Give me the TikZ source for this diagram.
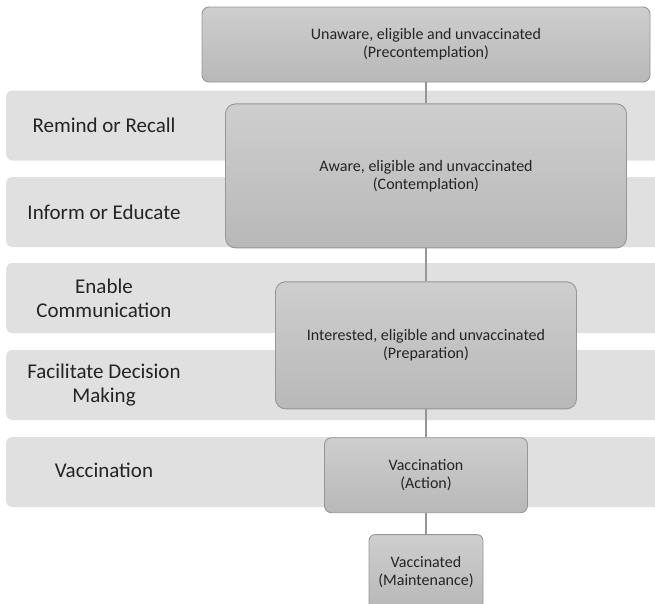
\documentclass[tikz,border=0pt]{standalone}
\usepackage{fontspec}
\setmainfont{Carlito}
\usetikzlibrary{positioning}
\definecolor{bandgray}{RGB}{224,224,224}
\definecolor{boxtop}{RGB}{206,206,206}
\definecolor{boxbot}{RGB}{184,184,184}
\definecolor{boxline}{RGB}{150,150,150}
\definecolor{txtgray}{RGB}{36,36,36}
\tikzset{>=stealth}

\begin{document}
\begin{tikzpicture}[x=1pt,y=1pt,
    band/.style={fill=bandgray, rounded corners=6pt, minimum height=70pt, minimum width=680pt, anchor=west, inner sep=0pt},
    tag/.style={font=\fontsize{21}{24}\selectfont, text=txtgray, align=center},
    stage/.style={draw=boxline, line width=0.9pt, top color=boxtop, bottom color=boxbot, rounded corners=8pt,
        font=\fontsize{16}{18}\selectfont, text=txtgray, align=center, inner sep=0pt},
    link/.style={draw=boxline, line width=1.2pt}]
    \clip (0,0) rectangle (655,-603);
    \node[band] (remind) at (6,-125.5) {};
    \node[band] (inform) at (6,-212) {};
    \node[band] (enable) at (6,-298) {};
    \node[band] (facil) at (6,-385) {};
    \node[band] (vacc) at (6,-472) {};
    \node[tag] (remindtxt) at (104,-125) {Remind or Recall};
    \node[tag] (informtxt) at (104,-212) {Inform or Educate};
    \node[tag] (enabletxt) at (104,-298) {Enable\\Communication};
    \node[tag] (faciltxt) at (104,-385) {Facilitate Decision\\Making};
    \node[tag] (vacctxt) at (104,-470) {Vaccination};
    \node[stage, minimum width=448pt, minimum height=75pt, rounded corners=7pt] (precon) at (426,-44.5)
        {Unaware, eligible and unvaccinated\\(Precontemplation)};
    \node[stage, minimum width=401pt, minimum height=144pt, rounded corners=10pt, below=21pt of precon] (contem)
        {Aware, eligible and unvaccinated\\(Contemplation)};
    \node[stage, minimum width=301pt, minimum height=127pt, rounded corners=10pt, below=33pt of contem] (prep)
        {Interested, eligible and unvaccinated\\(Preparation)};
    \node[stage, minimum width=203pt, minimum height=75pt, rounded corners=7pt, below=28pt of prep] (action)
        {Vaccination\\(Action)};
    \node[stage, minimum width=114pt, minimum height=74pt, rounded corners=6pt, below=21pt of action] (maint)
        {Vaccinated\\(Maintenance)};
    \draw[link] (precon) -- (contem);
    \draw[link] (contem) -- (prep);
    \draw[link] (prep) -- (action);
    \draw[link] (action) -- (maint);
\end{tikzpicture}
\end{document}
